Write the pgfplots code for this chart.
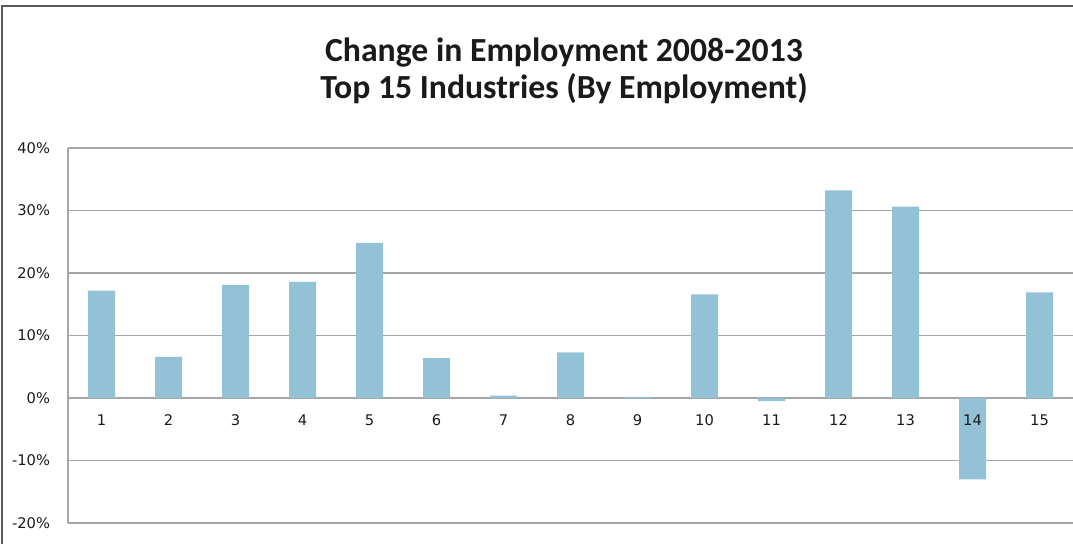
\documentclass[border=0pt]{standalone}
\usepackage{fontspec}
\setmainfont{DejaVu Sans}
\newfontfamily\titlefont{Carlito}
\usepackage{pgfplots}
\pgfplotsset{compat=1.18}
\definecolor{barblue}{HTML}{93C2D6}
\definecolor{gridgray}{HTML}{A6A6A6}
\definecolor{framegray}{HTML}{595959}
\definecolor{txt}{HTML}{1A1A1A}
\begin{document}
\begin{tikzpicture}
\path[use as bounding box] (0,0) rectangle (804.75pt,407.25pt);
\clip (0,0) rectangle (804.75pt,407.25pt);
\draw[framegray, line width=1.1pt] (1.5pt,-10pt) -- (1.5pt,402.75pt) -- (810pt,402.75pt);
\node[font=\titlefont\bfseries\fontsize{25.3}{27.75}\selectfont, align=center, text=txt] at (423pt,354pt) {Change in Employment 2008-2013\\Top 15 Industries (By Employment)};
\begin{axis}[
  at={(51pt,15pt)}, anchor=south west,
  scale only axis, width=753.75pt, height=281.25pt,
  xmin=0.5, xmax=15.5, ymin=-20, ymax=40,
  axis x line=middle, axis y line=left,
  axis line style={-, gridgray, line width=1.1pt},
  ytick={-20,-10,0,10,20,30,40},
  xtick={1,...,15},
  xticklabels={1,2,3,4,5,6,7,8,9,10,11,12,13,{},15},
  ymajorgrids, grid style={gridgray, line width=1.1pt},
  major tick length=0pt,
  /pgf/number format/assume math mode=true,
  yticklabel={\pgfmathprintnumber{\tick}\%},
  tick label style={font=\fontsize{11}{13}\selectfont, text=txt},
  yticklabel style={anchor=east, xshift=-10pt},
  xticklabel style={anchor=north, yshift=-9pt},
  ybar, bar width=20.25pt,
  clip=false,
]
\addplot[fill=barblue, draw=none] coordinates {
(1,17.2) (2,6.6) (3,18.1) (4,18.6) (5,24.8) (6,6.4) (7,0.4) (8,7.3)
(9,0.2) (10,16.6) (11,-0.5) (12,33.2) (13,30.6) (14,-13.0) (15,16.9)
};
\node[anchor=north, yshift=-9pt, font=\fontsize{11}{13}\selectfont, text=txt] at (axis cs:14,0) {14};
\end{axis}
\end{tikzpicture}
\end{document}
